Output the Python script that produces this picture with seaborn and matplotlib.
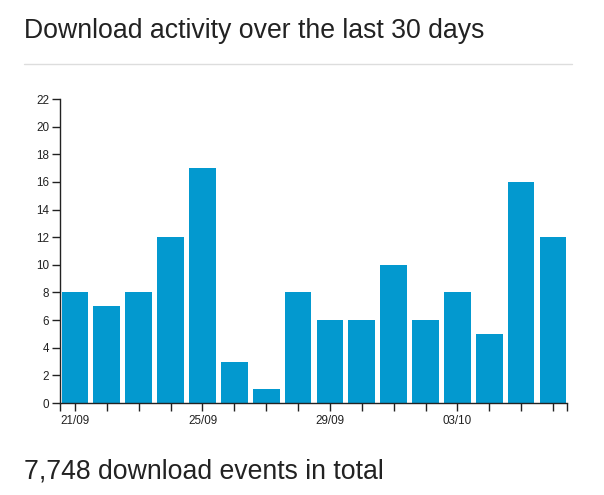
import matplotlib
matplotlib.use("Agg")
import matplotlib.pyplot as plt
import seaborn as sns
import pandas as pd

dates = ["21/09", "22/09", "23/09", "24/09", "25/09", "26/09", "27/09", "28/09",
         "29/09", "30/09", "01/10", "02/10", "03/10", "04/10", "05/10", "06/10"]
downloads = [8, 7, 8, 12, 17, 3, 1, 8, 6, 6, 10, 6, 8, 5, 16, 12]
y_ticks = list(range(0, 23, 2))
labeled_dates = ["21/09", "25/09", "29/09", "03/10"]

title_text = "Download activity over the last 30 days"
total_text = "7,748 download events in total"

sns.set_theme(style="white")
plt.rcParams['font.family'] = ['Liberation Sans', 'DejaVu Sans']

W, H = 604, 495
fig = plt.figure(figsize=(W / 100, H / 100), dpi=100)
ax = fig.add_axes([60 / W, (H - 403) / H, 507 / W, 304 / H])

df = pd.DataFrame({"date": dates, "downloads": downloads})
sns.barplot(data=df, x="date", y="downloads", color="#0399cf", saturation=1,
            width=0.84, linewidth=0, ax=ax)

x0, x1 = -0.47, 15.44
ax.set_xlim(x0, x1)
ax.set_ylim(0, 22)

ticks = [x0] + list(range(len(dates))) + [x1]
labels = [""] + [d if d in labeled_dates else "" for d in dates] + [""]
ax.set_xticks(ticks)
ax.set_xticklabels(labels)
ax.set_yticks(y_ticks)
ax.set_yticklabels([str(v) for v in y_ticks])

ax.set_xlabel("")
ax.set_ylabel("")
for s in ["top", "right"]:
    ax.spines[s].set_visible(False)
for s in ["left", "bottom"]:
    ax.spines[s].set_color("#222222")
    ax.spines[s].set_linewidth(1.0)

ax.tick_params(axis="both", which="both", direction="out", length=5.5, width=1,
               color="#222222", labelsize=8.4, labelcolor="#222222", pad=2.5,
               bottom=True, left=True)
ax.tick_params(axis="x", pad=3)

fig.text(24 / W, 1 - 38.5 / H, title_text, fontsize=19.2, color="#222222",
         ha="left", va="baseline")
fig.add_artist(plt.Line2D([24 / W, 572 / W], [1 - 64 / H, 1 - 64 / H],
                          color="#dddddd", linewidth=1, transform=fig.transFigure))
fig.text(24 / W, 1 - 478 / H, total_text, fontsize=19.2, color="#222222",
         ha="left", va="baseline")

fig.savefig("out.png", dpi=100)
